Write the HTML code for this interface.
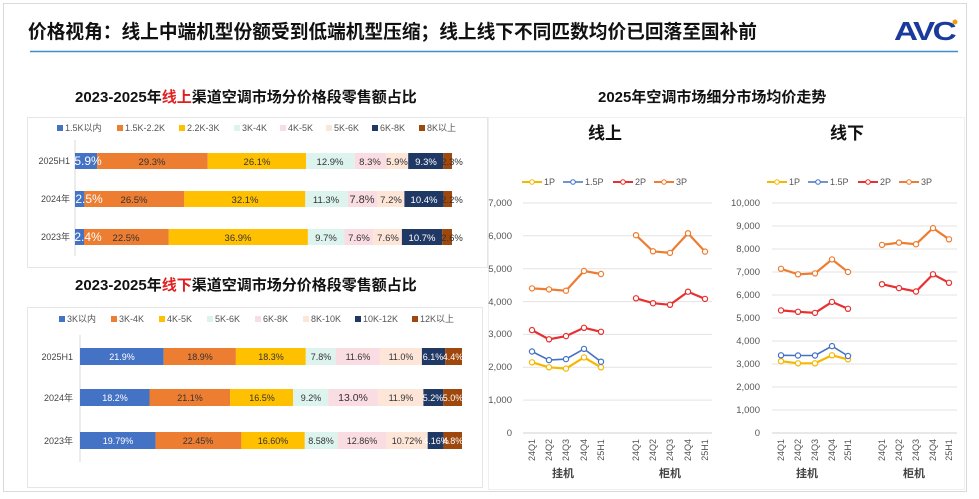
<!DOCTYPE html>
<html><head><meta charset="utf-8"><style>
html,body{margin:0;padding:0;background:#fff}
svg{display:block}
text{font-family:"Liberation Sans","Noto Sans CJK SC",sans-serif}
</style></head><body>
<svg width="979" height="499" viewBox="0 0 979 499" xmlns="http://www.w3.org/2000/svg">
<rect x="0" y="0" width="979" height="499" fill="#fff"/>
<rect x="3.5" y="3.5" width="963" height="488" fill="none" stroke="#d9d9d9"/>
<text x="28" y="38" font-size="19" font-weight="bold" fill="#111" textLength="729" lengthAdjust="spacingAndGlyphs">价格视角：线上中端机型份额受到低端机型压缩；线上线下不同匹数均价已回落至国补前</text>
<text x="894" y="40" font-size="26" font-weight="bold" fill="#1a3a9c" letter-spacing="-2" textLength="60" lengthAdjust="spacingAndGlyphs">AVC</text>
<circle cx="955" cy="22" r="2.5" fill="#f39c12"/>
<line x1="30" y1="51.5" x2="958" y2="51.5" stroke="#3a8fd0" stroke-width="1.5"/>

<text x="75" y="102" font-size="15" font-weight="bold" fill="#111">2023-2025年<tspan fill="#e02020">线上</tspan>渠道空调市场分价格段零售额占比</text>
<text x="598" y="102" font-size="15" font-weight="bold" fill="#111">2025年空调市场细分市场均价走势</text>
<text x="75" y="290" font-size="15" font-weight="bold" fill="#111">2023-2025年<tspan fill="#e02020">线下</tspan>渠道空调市场分价格段零售额占比</text>

<!-- top bar panel -->
<rect x="27.5" y="117.5" width="460" height="150" fill="none" stroke="#e6e6e6"/>
<g font-size="9" fill="#555">
<rect x="57" y="125" width="6" height="6" fill="#4472C4"/><text x="65" y="131">1.5K以内</text>
<rect x="117" y="125" width="6" height="6" fill="#ED7D31"/><text x="125" y="131">1.5K-2.2K</text>
<rect x="179" y="125" width="6" height="6" fill="#FFC000"/><text x="187" y="131">2.2K-3K</text>
<rect x="234" y="125" width="6" height="6" fill="#DDF3EE"/><text x="242" y="131">3K-4K</text>
<rect x="280" y="125" width="6" height="6" fill="#FADDE3"/><text x="288" y="131">4K-5K</text>
<rect x="326" y="125" width="6" height="6" fill="#FDE5D8"/><text x="334" y="131">5K-6K</text>
<rect x="372" y="125" width="6" height="6" fill="#203864"/><text x="380" y="131">6K-8K</text>
<rect x="419" y="125" width="6" height="6" fill="#9E480E"/><text x="427" y="131">8K以上</text>
</g>
<line x1="75" y1="140" x2="75" y2="256" stroke="#d9d9d9"/>
<g font-size="9" fill="#444" text-anchor="end">
<text x="70" y="164">2025H1</text><text x="70" y="202">2024年</text><text x="70" y="240">2023年</text>
</g>
<g>
<rect x="75" y="153" width="22.2" height="16" fill="#4472C4"/><rect x="97.2" y="153" width="110.5" height="16" fill="#ED7D31"/><rect x="207.7" y="153" width="98.4" height="16" fill="#FFC000"/><rect x="306.1" y="153" width="48.6" height="16" fill="#DDF3EE"/><rect x="354.7" y="153" width="31.3" height="16" fill="#FADDE3"/><rect x="386" y="153" width="22.2" height="16" fill="#FDE5D8"/><rect x="408.2" y="153" width="35.1" height="16" fill="#203864"/><rect x="443.3" y="153" width="8.7" height="16" fill="#9E480E"/>
<rect x="75" y="191" width="9.4" height="16" fill="#4472C4"/><rect x="84.4" y="191" width="99.9" height="16" fill="#ED7D31"/><rect x="184.3" y="191" width="121" height="16" fill="#FFC000"/><rect x="305.3" y="191" width="42.6" height="16" fill="#DDF3EE"/><rect x="347.9" y="191" width="29.4" height="16" fill="#FADDE3"/><rect x="377.3" y="191" width="27.1" height="16" fill="#FDE5D8"/><rect x="404.4" y="191" width="39.2" height="16" fill="#203864"/><rect x="443.6" y="191" width="8.4" height="16" fill="#9E480E"/>
<rect x="75" y="229" width="9" height="16" fill="#4472C4"/><rect x="84" y="229" width="84.8" height="16" fill="#ED7D31"/><rect x="168.8" y="229" width="139.1" height="16" fill="#FFC000"/><rect x="307.9" y="229" width="36.6" height="16" fill="#DDF3EE"/><rect x="344.5" y="229" width="28.7" height="16" fill="#FADDE3"/><rect x="373.2" y="229" width="28.7" height="16" fill="#FDE5D8"/><rect x="401.9" y="229" width="40.3" height="16" fill="#203864"/><rect x="442.2" y="229" width="9.8" height="16" fill="#9E480E"/>
</g>
<g font-size="9.5" fill="#333" text-anchor="middle">
<text x="88" y="165" fill="#fff" font-size="12">5.9%</text><text x="152" y="165">29.3%</text><text x="257" y="165">26.1%</text><text x="330" y="165">12.9%</text><text x="370" y="165">8.3%</text><text x="397" y="165">5.9%</text><text x="426" y="165" fill="#fff">9.3%</text><text x="452" y="165">2.3%</text>
<text x="89" y="203" fill="#fff" font-size="12">2.5%</text><text x="134" y="203">26.5%</text><text x="245" y="203">32.1%</text><text x="326" y="203">11.3%</text><text x="362" y="203" font-size="11">7.8%</text><text x="391" y="203">7.2%</text><text x="424" y="203" fill="#fff">10.4%</text><text x="452" y="203">2.2%</text>
<text x="88" y="241" fill="#fff" font-size="12">2.4%</text><text x="126" y="241">22.5%</text><text x="238" y="241">36.9%</text><text x="326" y="241">9.7%</text><text x="359" y="241">7.6%</text><text x="388" y="241">7.6%</text><text x="422" y="241" fill="#fff">10.7%</text><text x="452" y="241">2.6%</text>
</g>

<!-- bottom bar panel -->
<rect x="27.5" y="307.5" width="455" height="180" fill="none" stroke="#e6e6e6"/>
<g font-size="9" fill="#555">
<rect x="59" y="316" width="6" height="6" fill="#4472C4"/><text x="67" y="322">3K以内</text>
<rect x="111" y="316" width="6" height="6" fill="#ED7D31"/><text x="119" y="322">3K-4K</text>
<rect x="159" y="316" width="6" height="6" fill="#FFC000"/><text x="167" y="322">4K-5K</text>
<rect x="207" y="316" width="6" height="6" fill="#DDF3EE"/><text x="215" y="322">5K-6K</text>
<rect x="255" y="316" width="6" height="6" fill="#FADDE3"/><text x="263" y="322">6K-8K</text>
<rect x="303" y="316" width="6" height="6" fill="#FDE5D8"/><text x="311" y="322">8K-10K</text>
<rect x="355" y="316" width="6" height="6" fill="#203864"/><text x="363" y="322">10K-12K</text>
<rect x="412" y="316" width="6" height="6" fill="#9E480E"/><text x="420" y="322">12K以上</text>
</g>
<line x1="80" y1="335" x2="80" y2="462" stroke="#d9d9d9"/>
<g font-size="9" fill="#444" text-anchor="end">
<text x="73" y="360">2025H1</text><text x="73" y="401">2024年</text><text x="73" y="444">2023年</text>
</g>
<g>
<rect x="80" y="348" width="83.7" height="17" fill="#4472C4"/><rect x="163.7" y="348" width="72.2" height="17" fill="#ED7D31"/><rect x="235.9" y="348" width="69.9" height="17" fill="#FFC000"/><rect x="305.8" y="348" width="29.8" height="17" fill="#DDF3EE"/><rect x="335.6" y="348" width="44.3" height="17" fill="#FADDE3"/><rect x="379.9" y="348" width="42" height="17" fill="#FDE5D8"/><rect x="421.9" y="348" width="23.3" height="17" fill="#203864"/><rect x="445.2" y="348" width="16.8" height="17" fill="#9E480E"/>
<rect x="80" y="389" width="69.5" height="17" fill="#4472C4"/><rect x="149.5" y="389" width="80.6" height="17" fill="#ED7D31"/><rect x="230.1" y="389" width="63" height="17" fill="#FFC000"/><rect x="293.1" y="389" width="35.1" height="17" fill="#DDF3EE"/><rect x="328.2" y="389" width="49.7" height="17" fill="#FADDE3"/><rect x="377.9" y="389" width="45.5" height="17" fill="#FDE5D8"/><rect x="423.4" y="389" width="19.9" height="17" fill="#203864"/><rect x="443.3" y="389" width="18.7" height="17" fill="#9E480E"/>
<rect x="80" y="432" width="75.6" height="17" fill="#4472C4"/><rect x="155.6" y="432" width="85.8" height="17" fill="#ED7D31"/><rect x="241.4" y="432" width="63.4" height="17" fill="#FFC000"/><rect x="304.8" y="432" width="32.8" height="17" fill="#DDF3EE"/><rect x="337.6" y="432" width="49.1" height="17" fill="#FADDE3"/><rect x="386.7" y="432" width="41" height="17" fill="#FDE5D8"/><rect x="427.7" y="432" width="15.9" height="17" fill="#203864"/><rect x="443.6" y="432" width="18.4" height="17" fill="#9E480E"/>
</g>
<g font-size="9" fill="#333" text-anchor="middle">
<text x="122" y="360" fill="#fff">21.9%</text><text x="200" y="360">18.9%</text><text x="271" y="360">18.3%</text><text x="321" y="360">7.8%</text><text x="358" y="360">11.6%</text><text x="401" y="360">11.0%</text><text x="433" y="360" fill="#fff">6.1%</text><text x="453" y="360" fill="#fff">4.4%</text>
<text x="115" y="401" fill="#fff">18.2%</text><text x="190" y="401">21.1%</text><text x="262" y="401">16.5%</text><text x="311" y="401">9.2%</text><text x="353" y="401" font-size="10.5">13.0%</text><text x="401" y="401">11.9%</text><text x="433" y="401" fill="#fff">5.2%</text><text x="453" y="401" fill="#fff">5.0%</text>
<text x="118" y="444" fill="#fff">19.79%</text><text x="198" y="444">22.45%</text><text x="273" y="444">16.60%</text><text x="321" y="444">8.58%</text><text x="362" y="444">12.86%</text><text x="407" y="444">10.72%</text><text x="436" y="444" fill="#fff">4.16%</text><text x="453" y="444" fill="#fff">4.8%</text>
</g>

<!-- right panel -->
<rect x="488.5" y="117.5" width="476" height="372" fill="none" stroke="#f0f0f0"/>
<text x="588" y="139" font-size="17" font-weight="bold" fill="#111">线上</text>
<text x="830" y="139" font-size="17" font-weight="bold" fill="#111">线下</text>

<!-- left line chart -->
<g stroke="#e3e3e3" stroke-width="1">
<line x1="523" y1="433" x2="712" y2="433" stroke="#d0d0d0"/><line x1="523" y1="400.1" x2="712" y2="400.1"/><line x1="523" y1="367.3" x2="712" y2="367.3"/><line x1="523" y1="334.4" x2="712" y2="334.4"/><line x1="523" y1="301.6" x2="712" y2="301.6"/><line x1="523" y1="268.7" x2="712" y2="268.7"/><line x1="523" y1="235.8" x2="712" y2="235.8"/><line x1="523" y1="203" x2="712" y2="203"/>
</g>
<g font-size="9.5" fill="#555" text-anchor="end">
<text x="512" y="436">0</text><text x="512" y="403">1,000</text><text x="512" y="370">2,000</text><text x="512" y="337">3,000</text><text x="512" y="305">4,000</text><text x="512" y="272">5,000</text><text x="512" y="239">6,000</text><text x="512" y="206">7,000</text>
</g>
<g fill="none" stroke-width="2.2">
<polyline stroke="#F5B800" points="532,362.3 549,367.3 566,368.6 584,357.4 601,367.3"/>
<polyline stroke="#4472C4" stroke-width="1.6" points="532,351.5 549,360.1 566,359.1 584,348.9 601,361.7"/>
<polyline stroke="#E83030" points="532,330.1 549,339.3 566,336.1 584,327.8 601,331.8"/>
<polyline stroke="#ED7D31" points="532,288.4 549,289.4 566,290.7 584,271 601,274"/>
<polyline stroke="#E83030" points="636,298.3 653,303.2 670,304.8 688,291.7 705,298.9"/>
<polyline stroke="#ED7D31" points="636,235.2 653,251.3 670,252.9 688,233.2 705,251.6"/>
</g>
<g fill="#fff" stroke-width="1.2">
<g stroke="#F5B800"><circle cx="532" cy="362.3" r="2.6"/><circle cx="549" cy="367.3" r="2.6"/><circle cx="566" cy="368.6" r="2.6"/><circle cx="584" cy="357.4" r="2.6"/><circle cx="601" cy="367.3" r="2.6"/></g>
<g stroke="#4472C4"><circle cx="532" cy="351.5" r="2.6"/><circle cx="549" cy="360.1" r="2.6"/><circle cx="566" cy="359.1" r="2.6"/><circle cx="584" cy="348.9" r="2.6"/><circle cx="601" cy="361.7" r="2.6"/></g>
<g stroke="#E83030"><circle cx="532" cy="330.1" r="2.6"/><circle cx="549" cy="339.3" r="2.6"/><circle cx="566" cy="336.1" r="2.6"/><circle cx="584" cy="327.8" r="2.6"/><circle cx="601" cy="331.8" r="2.6"/><circle cx="636" cy="298.3" r="2.6"/><circle cx="653" cy="303.2" r="2.6"/><circle cx="670" cy="304.8" r="2.6"/><circle cx="688" cy="291.7" r="2.6"/><circle cx="705" cy="298.9" r="2.6"/></g>
<g stroke="#ED7D31"><circle cx="532" cy="288.4" r="2.6"/><circle cx="549" cy="289.4" r="2.6"/><circle cx="566" cy="290.7" r="2.6"/><circle cx="584" cy="271" r="2.6"/><circle cx="601" cy="274" r="2.6"/><circle cx="636" cy="235.2" r="2.6"/><circle cx="653" cy="251.3" r="2.6"/><circle cx="670" cy="252.9" r="2.6"/><circle cx="688" cy="233.2" r="2.6"/><circle cx="705" cy="251.6" r="2.6"/></g>
</g>
<g font-size="9" fill="#555">
<line x1="522" y1="182" x2="542" y2="182" stroke="#F5B800" stroke-width="2"/><circle cx="532" cy="182" r="2.3" fill="#fff" stroke="#F5B800"/><text x="544" y="185">1P</text>
<line x1="563" y1="182" x2="583" y2="182" stroke="#4472C4" stroke-width="1.5"/><circle cx="573" cy="182" r="2.3" fill="#fff" stroke="#4472C4"/><text x="585" y="185">1.5P</text>
<line x1="613" y1="182" x2="633" y2="182" stroke="#E83030" stroke-width="2"/><circle cx="623" cy="182" r="2.3" fill="#fff" stroke="#E83030"/><text x="635" y="185">2P</text>
<line x1="654" y1="182" x2="674" y2="182" stroke="#ED7D31" stroke-width="2"/><circle cx="664" cy="182" r="2.3" fill="#fff" stroke="#ED7D31"/><text x="676" y="185">3P</text>
</g>
<g font-size="9" fill="#555" text-anchor="middle">
<text transform="translate(535,450) rotate(-90)">24Q1</text><text transform="translate(552,450) rotate(-90)">24Q2</text><text transform="translate(569,450) rotate(-90)">24Q3</text><text transform="translate(587,450) rotate(-90)">24Q4</text><text transform="translate(604,450) rotate(-90)">25H1</text>
<text transform="translate(639,450) rotate(-90)">24Q1</text><text transform="translate(656,450) rotate(-90)">24Q2</text><text transform="translate(673,450) rotate(-90)">24Q3</text><text transform="translate(691,450) rotate(-90)">24Q4</text><text transform="translate(708,450) rotate(-90)">25H1</text>
</g>
<g font-size="11" fill="#444" text-anchor="middle" font-weight="bold">
<text x="563" y="477">挂机</text><text x="670" y="477">柜机</text><text x="807" y="477">挂机</text><text x="914" y="477">柜机</text>
</g>

<!-- right line chart -->
<g stroke="#e3e3e3" stroke-width="1">
<line x1="772" y1="433" x2="957" y2="433" stroke="#d0d0d0"/><line x1="772" y1="410" x2="957" y2="410"/><line x1="772" y1="387" x2="957" y2="387"/><line x1="772" y1="364" x2="957" y2="364"/><line x1="772" y1="341" x2="957" y2="341"/><line x1="772" y1="318" x2="957" y2="318"/><line x1="772" y1="295" x2="957" y2="295"/><line x1="772" y1="272" x2="957" y2="272"/><line x1="772" y1="249" x2="957" y2="249"/><line x1="772" y1="226" x2="957" y2="226"/><line x1="772" y1="203" x2="957" y2="203"/>
</g>
<g font-size="9.5" fill="#555" text-anchor="end">
<text x="760" y="436">0</text><text x="760" y="413">1,000</text><text x="760" y="390">2,000</text><text x="760" y="367">3,000</text><text x="760" y="344">4,000</text><text x="760" y="321">5,000</text><text x="760" y="298">6,000</text><text x="760" y="275">7,000</text><text x="760" y="252">8,000</text><text x="760" y="229">9,000</text><text x="760" y="206">10,000</text>
</g>
<g fill="none" stroke-width="2.2">
<polyline stroke="#F5B800" points="781,361.2 798,363.3 815,363.3 832,355.3 848,359.4"/>
<polyline stroke="#4472C4" stroke-width="1.6" points="781,355.3 798,355.5 815,355.5 832,346.1 848,356"/>
<polyline stroke="#E83030" points="781,310.4 798,311.8 815,312.9 832,301.9 848,308.8"/>
<polyline stroke="#ED7D31" points="781,268.8 798,274.3 815,273.4 832,259.4 848,272"/>
<polyline stroke="#E83030" points="882,284.2 899,288.1 916,291.5 933,274.3 949,282.8"/>
<polyline stroke="#ED7D31" points="882,244.9 899,242.6 916,244.2 933,228.1 949,239.3"/>
</g>
<g fill="#fff" stroke-width="1.2">
<g stroke="#F5B800"><circle cx="781" cy="361.2" r="2.6"/><circle cx="798" cy="363.3" r="2.6"/><circle cx="815" cy="363.3" r="2.6"/><circle cx="832" cy="355.3" r="2.6"/><circle cx="848" cy="359.4" r="2.6"/></g>
<g stroke="#4472C4"><circle cx="781" cy="355.3" r="2.6"/><circle cx="798" cy="355.5" r="2.6"/><circle cx="815" cy="355.5" r="2.6"/><circle cx="832" cy="346.1" r="2.6"/><circle cx="848" cy="356" r="2.6"/></g>
<g stroke="#E83030"><circle cx="781" cy="310.4" r="2.6"/><circle cx="798" cy="311.8" r="2.6"/><circle cx="815" cy="312.9" r="2.6"/><circle cx="832" cy="301.9" r="2.6"/><circle cx="848" cy="308.8" r="2.6"/><circle cx="882" cy="284.2" r="2.6"/><circle cx="899" cy="288.1" r="2.6"/><circle cx="916" cy="291.5" r="2.6"/><circle cx="933" cy="274.3" r="2.6"/><circle cx="949" cy="282.8" r="2.6"/></g>
<g stroke="#ED7D31"><circle cx="781" cy="268.8" r="2.6"/><circle cx="798" cy="274.3" r="2.6"/><circle cx="815" cy="273.4" r="2.6"/><circle cx="832" cy="259.4" r="2.6"/><circle cx="848" cy="272" r="2.6"/><circle cx="882" cy="244.9" r="2.6"/><circle cx="899" cy="242.6" r="2.6"/><circle cx="916" cy="244.2" r="2.6"/><circle cx="933" cy="228.1" r="2.6"/><circle cx="949" cy="239.3" r="2.6"/></g>
</g>
<g font-size="9" fill="#555">
<line x1="767" y1="182" x2="787" y2="182" stroke="#F5B800" stroke-width="2"/><circle cx="777" cy="182" r="2.3" fill="#fff" stroke="#F5B800"/><text x="789" y="185">1P</text>
<line x1="808" y1="182" x2="828" y2="182" stroke="#4472C4" stroke-width="1.5"/><circle cx="818" cy="182" r="2.3" fill="#fff" stroke="#4472C4"/><text x="830" y="185">1.5P</text>
<line x1="858" y1="182" x2="878" y2="182" stroke="#E83030" stroke-width="2"/><circle cx="868" cy="182" r="2.3" fill="#fff" stroke="#E83030"/><text x="880" y="185">2P</text>
<line x1="899" y1="182" x2="919" y2="182" stroke="#ED7D31" stroke-width="2"/><circle cx="909" cy="182" r="2.3" fill="#fff" stroke="#ED7D31"/><text x="921" y="185">3P</text>
</g>
<g font-size="9" fill="#555" text-anchor="middle">
<text transform="translate(784,450) rotate(-90)">24Q1</text><text transform="translate(801,450) rotate(-90)">24Q2</text><text transform="translate(818,450) rotate(-90)">24Q3</text><text transform="translate(835,450) rotate(-90)">24Q4</text><text transform="translate(851,450) rotate(-90)">25H1</text>
<text transform="translate(885,450) rotate(-90)">24Q1</text><text transform="translate(902,450) rotate(-90)">24Q2</text><text transform="translate(919,450) rotate(-90)">24Q3</text><text transform="translate(936,450) rotate(-90)">24Q4</text><text transform="translate(952,450) rotate(-90)">25H1</text>
</g>
</svg>
</body></html>
